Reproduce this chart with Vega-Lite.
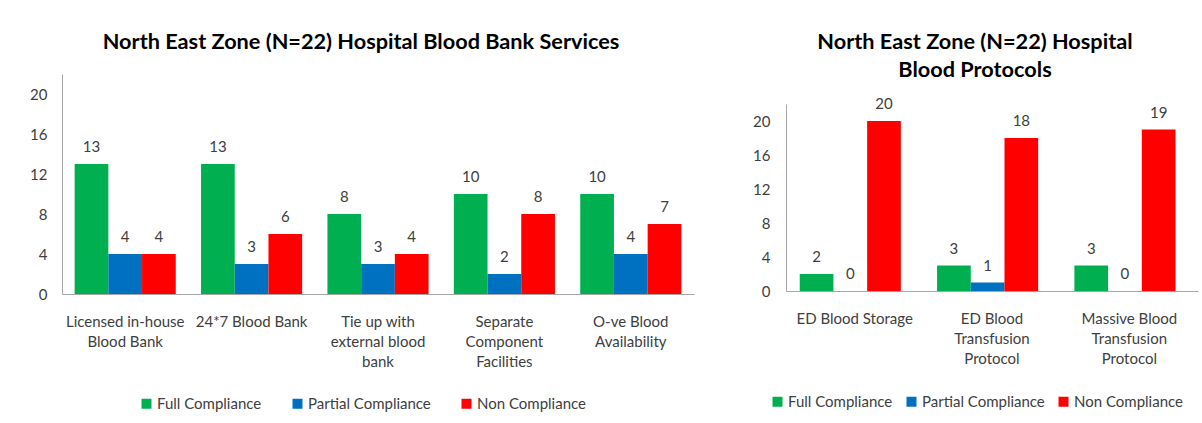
{
  "$schema": "https://vega.github.io/schema/vega-lite/v6.json",
  "background": "white",
  "padding": {"left": 5, "top": 32, "right": 5, "bottom": 5},
  "config": {"font": "Lato", "view": {"stroke": null}, "concat": {"spacing": 52}},
  "resolve": {"scale": {"color": "independent"}, "legend": {"color": "independent"}},
  "datasets": {
    "services": [
      {"service": "Licensed in-house|Blood Bank", "status": "Full Compliance", "count": 13},
      {"service": "Licensed in-house|Blood Bank", "status": "Partial Compliance", "count": 4},
      {"service": "Licensed in-house|Blood Bank", "status": "Non Compliance", "count": 4},
      {"service": "24*7 Blood Bank", "status": "Full Compliance", "count": 13},
      {"service": "24*7 Blood Bank", "status": "Partial Compliance", "count": 3},
      {"service": "24*7 Blood Bank", "status": "Non Compliance", "count": 6},
      {"service": "Tie up with|external blood|bank", "status": "Full Compliance", "count": 8},
      {"service": "Tie up with|external blood|bank", "status": "Partial Compliance", "count": 3},
      {"service": "Tie up with|external blood|bank", "status": "Non Compliance", "count": 4},
      {"service": "Separate|Component|Facilities", "status": "Full Compliance", "count": 10},
      {"service": "Separate|Component|Facilities", "status": "Partial Compliance", "count": 2},
      {"service": "Separate|Component|Facilities", "status": "Non Compliance", "count": 8},
      {"service": "O-ve Blood|Availability", "status": "Full Compliance", "count": 10},
      {"service": "O-ve Blood|Availability", "status": "Partial Compliance", "count": 4},
      {"service": "O-ve Blood|Availability", "status": "Non Compliance", "count": 7}
    ],
    "protocols": [
      {"protocol": "ED Blood Storage", "status": "Full Compliance", "count": 2},
      {"protocol": "ED Blood Storage", "status": "Partial Compliance", "count": 0},
      {"protocol": "ED Blood Storage", "status": "Non Compliance", "count": 20},
      {"protocol": "ED Blood|Transfusion|Protocol", "status": "Full Compliance", "count": 3},
      {"protocol": "ED Blood|Transfusion|Protocol", "status": "Partial Compliance", "count": 1},
      {"protocol": "ED Blood|Transfusion|Protocol", "status": "Non Compliance", "count": 18},
      {"protocol": "Massive Blood|Transfusion|Protocol", "status": "Full Compliance", "count": 3},
      {"protocol": "Massive Blood|Transfusion|Protocol", "status": "Partial Compliance", "count": 0},
      {"protocol": "Massive Blood|Transfusion|Protocol", "status": "Non Compliance", "count": 19}
    ]
  },
  "hconcat": [
    {
      "width": 632,
      "height": 220,
      "title": {"text": "North East Zone (N=22) Hospital Blood Bank Services", "fontSize": 21.7, "fontWeight": "bold", "color": "#000000", "dx": -17, "offset": 20},
      "data": {"name": "services"},
      "encoding": {
        "x": {"field": "service", "type": "nominal", "sort": null,
          "scale": {"paddingInner": 0.2, "paddingOuter": 0.1},
          "axis": {"title": null, "labelAngle": 0, "labelExpr": "split(datum.label, '|')", "ticks": false, "domainColor": "#A6A6A6", "labelFontSize": 15, "labelColor": "#404040", "labelLineHeight": 20, "labelPadding": 20}},
        "xOffset": {"field": "status", "type": "nominal", "sort": ["Full Compliance", "Partial Compliance", "Non Compliance"]},
        "y": {"field": "count", "type": "quantitative", "scale": {"domain": [0, 22], "nice": false},
          "axis": {"title": null, "values": [0, 4, 8, 12, 16, 20], "grid": false, "ticks": false, "domainColor": "#A6A6A6", "labelFontSize": 15, "labelColor": "#404040", "labelPadding": 15, "minExtent": 57}}
      },
      "layer": [
        {"mark": {"type": "bar"},
          "encoding": {"color": {"field": "status", "type": "nominal", "sort": ["Full Compliance", "Partial Compliance", "Non Compliance"],
            "scale": {"domain": ["Full Compliance", "Partial Compliance", "Non Compliance"], "range": ["#00B050", "#0070C0", "#FF0000"]},
            "legend": {"orient": "none", "legendX": 77, "legendY": 322, "direction": "horizontal", "title": null, "symbolType": "square", "symbolSize": 100, "symbolStrokeWidth": 0, "labelFontSize": 15, "labelColor": "#404040", "columnPadding": 28, "labelOffset": 3}}}},
        {"mark": {"type": "text", "dy": -17, "fontSize": 15, "color": "#404040", "baseline": "middle"},
          "encoding": {"text": {"field": "count", "type": "quantitative"}}}
      ]
    },
    {
      "width": 412,
      "height": 217,
      "title": {"text": ["North East Zone (N=22) Hospital", "Blood Protocols"], "fontSize": 21.7, "fontWeight": "bold", "color": "#000000", "dx": -17, "offset": -8, "lineHeight": 28},
      "data": {"name": "protocols"},
      "encoding": {
        "x": {"field": "protocol", "type": "nominal", "sort": null,
          "scale": {"paddingInner": 0.2, "paddingOuter": 0.1},
          "axis": {"title": null, "labelAngle": 0, "labelExpr": "split(datum.label, '|')", "ticks": false, "domainColor": "#A6A6A6", "labelFontSize": 15, "labelColor": "#404040", "labelLineHeight": 20, "labelPadding": 20}},
        "xOffset": {"field": "status", "type": "nominal", "sort": ["Full Compliance", "Partial Compliance", "Non Compliance"]},
        "y": {"field": "count", "type": "quantitative", "scale": {"domain": [0, 22], "nice": false, "rangeMax": 30},
          "axis": {"title": null, "values": [0, 4, 8, 12, 16, 20], "grid": false, "ticks": false, "domainColor": "#A6A6A6", "labelFontSize": 15, "labelColor": "#404040", "labelPadding": 16, "minExtent": 40}}
      },
      "layer": [
        {"mark": {"type": "bar"},
          "encoding": {"color": {"field": "status", "type": "nominal", "sort": ["Full Compliance", "Partial Compliance", "Non Compliance"],
            "scale": {"domain": ["Full Compliance", "Partial Compliance", "Non Compliance"], "range": ["#00B050", "#0070C0", "#FF0000"]},
            "legend": {"orient": "none", "legendX": -16, "legendY": 320, "direction": "horizontal", "title": null, "symbolType": "square", "symbolSize": 100, "symbolStrokeWidth": 0, "labelFontSize": 15, "labelColor": "#404040", "columnPadding": 11, "labelOffset": 3}}}},
        {"mark": {"type": "text", "dy": -17, "fontSize": 15, "color": "#404040", "baseline": "middle"},
          "encoding": {"text": {"field": "count", "type": "quantitative"}}}
      ]
    }
  ]
}
